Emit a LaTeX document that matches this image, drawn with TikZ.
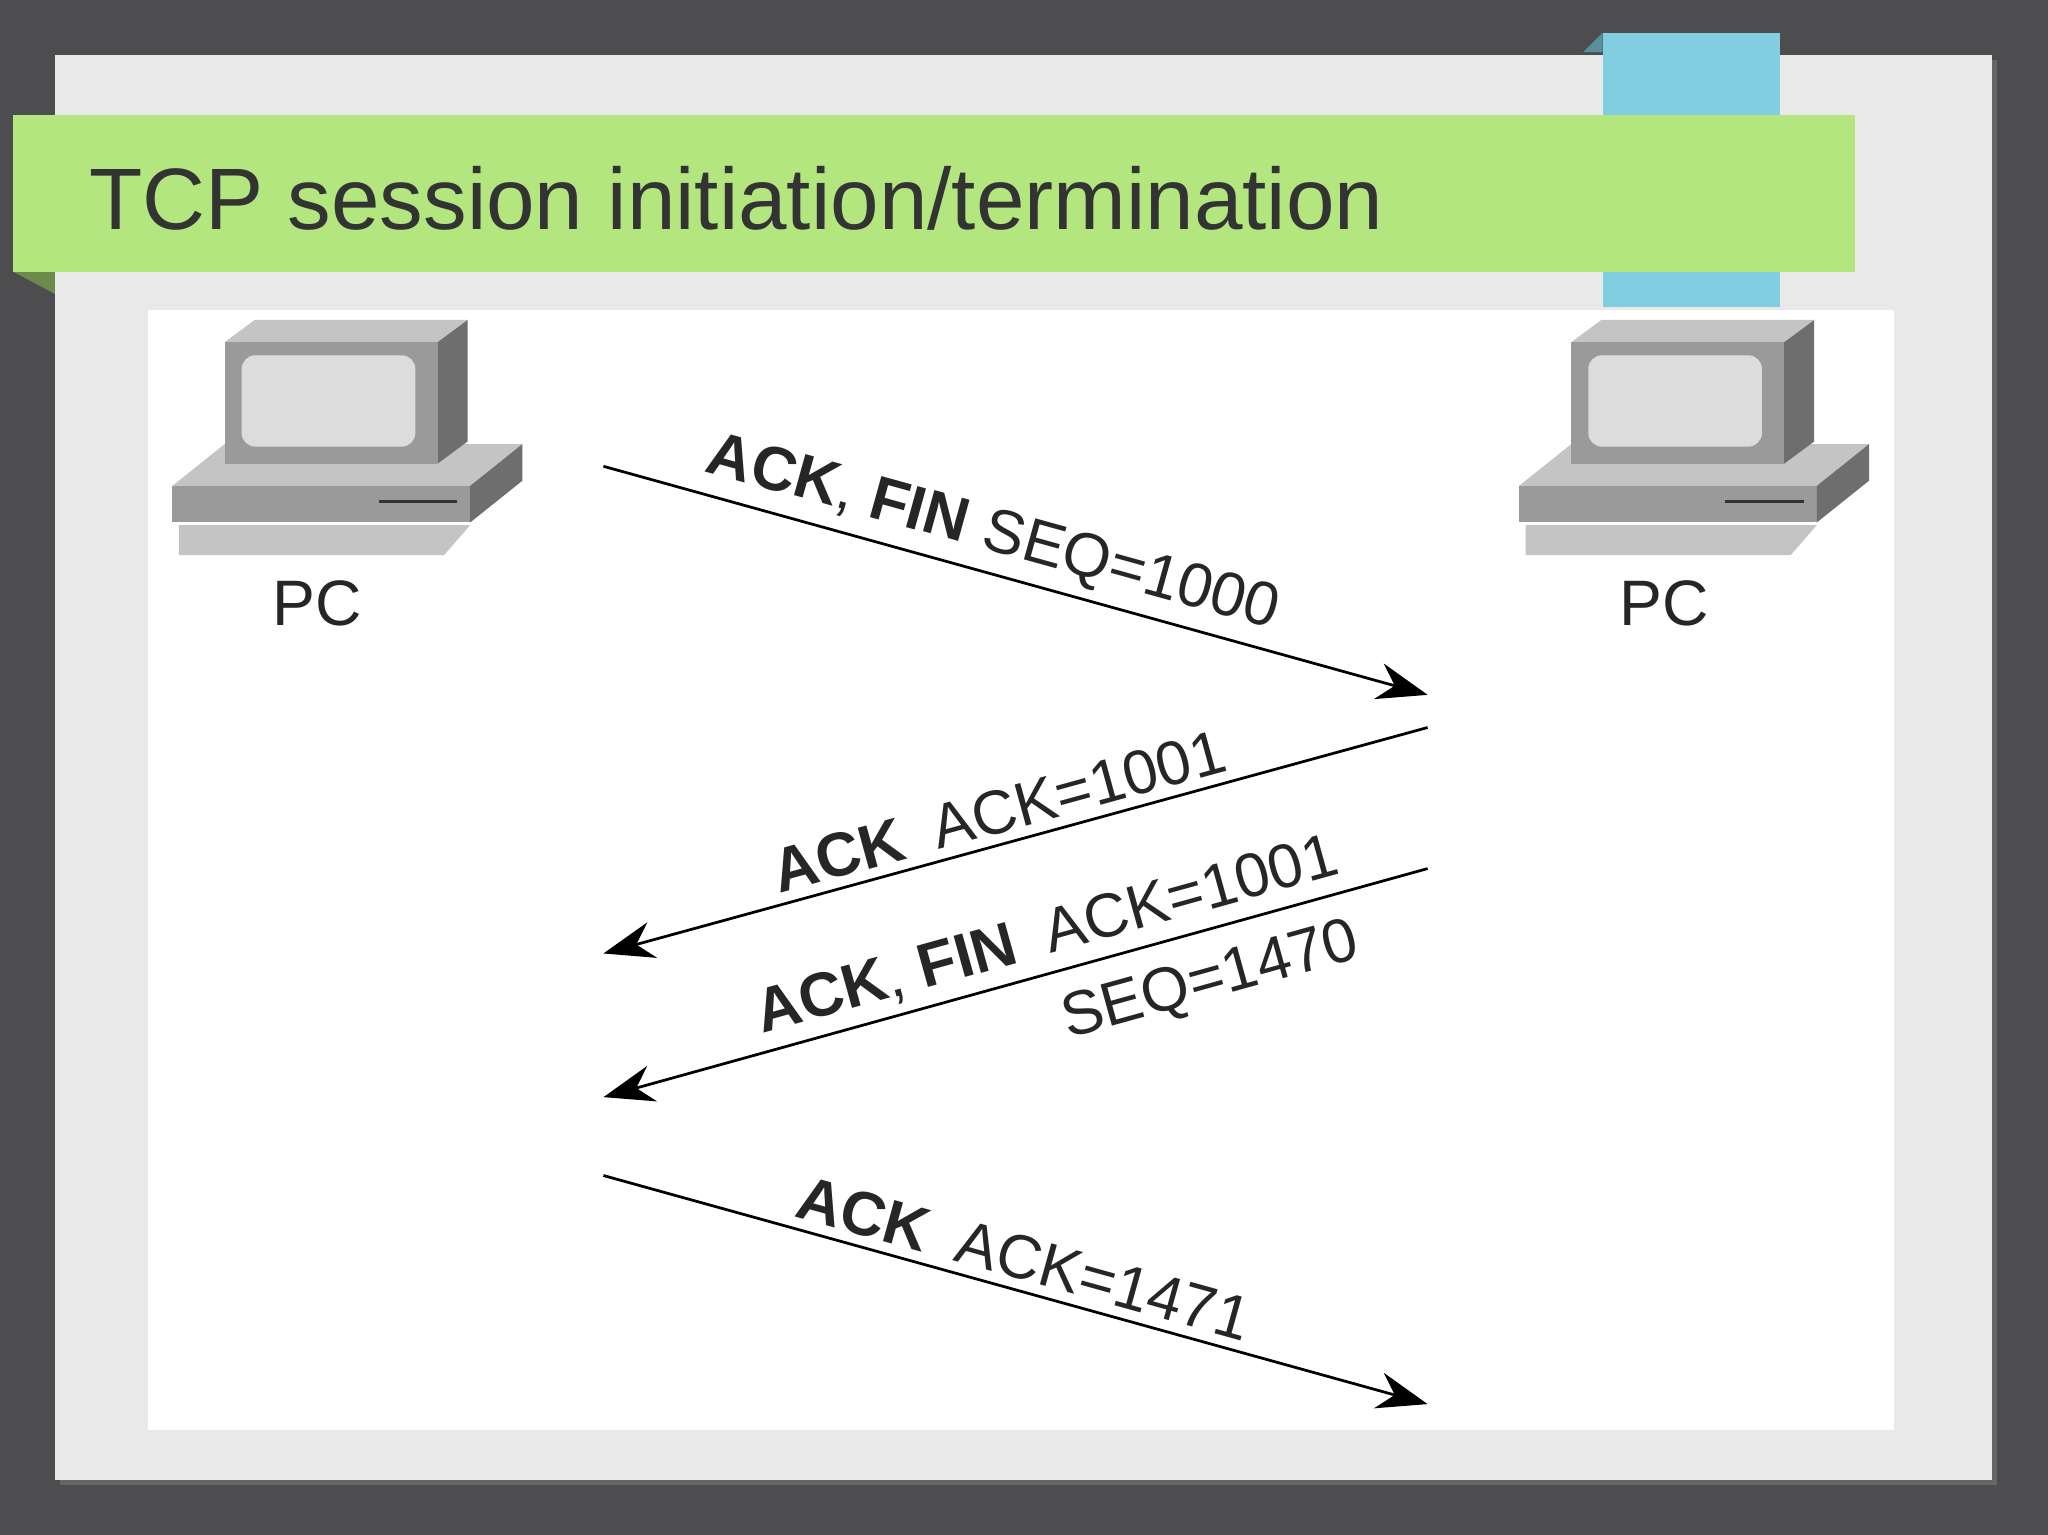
\documentclass[tikz,border=0pt]{standalone}
\usepackage{fontspec}
\setmainfont{Liberation Sans}
\usetikzlibrary{positioning,arrows.meta}
\definecolor{slidebg}{HTML}{4D4D4F}
\definecolor{panel}{HTML}{E9E9EA}
\definecolor{banner}{HTML}{B3E67F}
\definecolor{tab}{HTML}{80CEE0}
\definecolor{pcfront}{HTML}{9A9A9A}
\definecolor{pctop}{HTML}{C4C4C4}
\definecolor{pcside}{HTML}{6E6E6E}
\definecolor{screen}{HTML}{DCDCDC}
\tikzset{
  msg/.style={draw=black, line width=1.2pt, -{Stealth[length=22pt,width=16pt]}},
  lbl/.style={font=\fontsize{27}{30}\selectfont, text=black!85, sloped, inner sep=4pt},
  pclabel/.style={font=\fontsize{28}{30}\selectfont, text=black!85}
}
% one computer icon, origin at top-left of its box
\newcommand{\pcicon}[1]{%
  \begin{scope}[shift={(#1,0)}]
    % base
    \fill[pctop] (0,-372) -- (228,-372) -- (268,-340) -- (40,-340) -- cycle;
    \fill[pcfront] (0,-372) rectangle (228,-400);
    \fill[pcside] (228,-372) -- (268,-340) -- (268,-368) -- (228,-400) -- cycle;
    \draw[black!80, line width=1pt] (158,-384) -- (218,-384);
    % keyboard
    \fill[pctop] (5,-402) -- (228,-402) -- (208,-425) -- (5,-425) -- cycle;
    % monitor
    \fill[pctop] (40,-262) -- (63,-245) -- (226,-245) -- (203,-262) -- cycle;
    \fill[pcside] (203,-262) -- (226,-245) -- (226,-338) -- (203,-355) -- cycle;
    \fill[pcfront] (40,-262) rectangle (203,-355);
    \fill[screen, rounded corners=6pt] (53,-272) rectangle (186,-342);
  \end{scope}}
\begin{document}
\begin{tikzpicture}[x=0.02cm,y=0.02cm]
\useasboundingbox (0,0) rectangle (1568,-1175);
\fill[slidebg] (0,0) rectangle (1568,-1175);
\fill[black!60] (46,-46) rectangle (1529,-1137);
\fill[panel] (42,-42) rectangle (1525,-1133);
\fill[tab!70!black] (1212,-40) -- (1227,-25) -- (1227,-40) -- cycle;
\fill[tab] (1227,-25) rectangle (1363,-235);
\fill[banner!60!black] (10,-208) -- (42,-225) -- (42,-208) -- cycle;
\fill[banner] (10,-88) rectangle (1420,-208);
\node[anchor=west, font=\fontsize{38}{42}\selectfont, text=black!80, inner sep=0] (title) at (68,-152) {TCP session initiation/termination};
\fill[white] (113,-237) rectangle (1450,-1095);
% computers
\pcicon{132}
\pcicon{1163}
\node[pclabel] (pcA) at (243,-462) {PC};
\node[pclabel] (pcB) at (1274,-462) {PC};
% message ends
\coordinate (a1) at (462,-357);  \coordinate (b1) at (1093,-532);
\coordinate (b2) at (1093,-557); \coordinate (a2) at (462,-730);
\coordinate (b3) at (1093,-665); \coordinate (a3) at (462,-840);
\coordinate (a4) at (462,-900);  \coordinate (b4) at (1093,-1075);
\draw[msg] (a1) -- node[lbl, above, pos=0.46] {\textbf{ACK}, \textbf{FIN} SEQ=1000} (b1);
\draw[msg] (b2) -- node[lbl, above, pos=0.51] {\textbf{ACK}\enspace ACK=1001} (a2);
\draw[msg] (b3) -- node[lbl, above, pos=0.45] {\textbf{ACK}, \textbf{FIN}\enspace ACK=1001}
                    node[lbl, below, pos=0.28, inner sep=10pt] {SEQ=1470} (a3);
\draw[msg] (a4) -- node[lbl, above, pos=0.5] {\textbf{ACK}\enspace ACK=1471} (b4);
\end{tikzpicture}
\end{document}
